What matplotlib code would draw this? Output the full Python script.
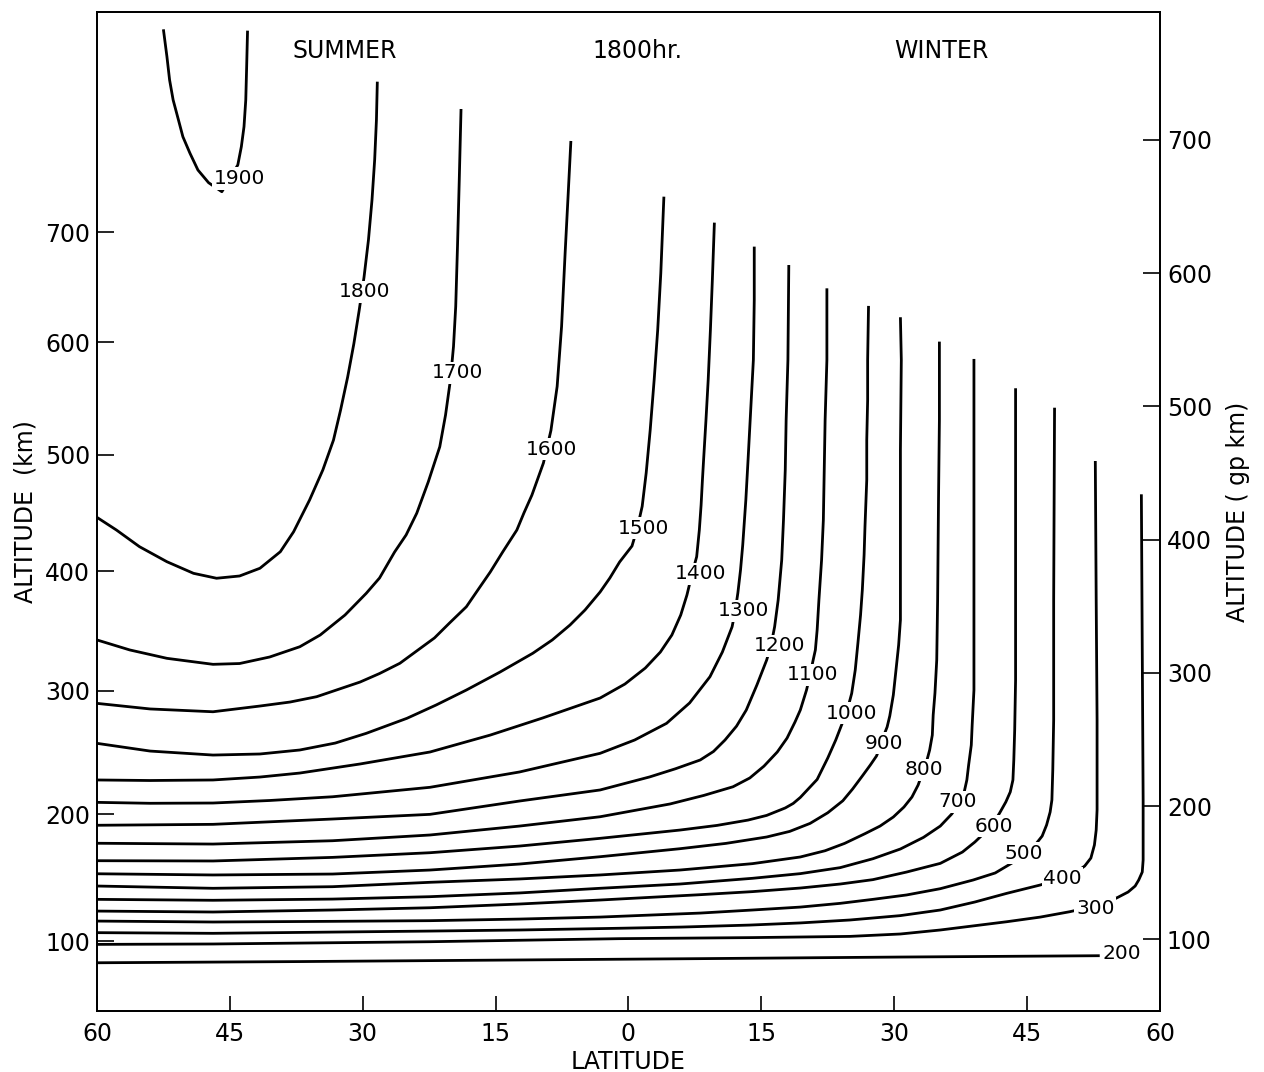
import numpy as np
import matplotlib
matplotlib.use("Agg")
import matplotlib.pyplot as plt

plt.rcParams["font.family"] = ["DejaVu Sans"]

# Isotherms (K) at 1800 hr, latitude negative = summer hemisphere,
# altitude in geopotential km
lat_200 = [-60.0, -37.1, -14.5, 8.1, 30.7, 53.2]
alt_200 = [82.4, 83.3, 84.4, 85.5, 86.7, 87.7]

lat_300 = [-60.0, -46.9, -22.4, -12.3, -1.0, 14.0, 25.0, 30.7, 35.2, 42.7, 46.5, 49.8, 52.7, 54.4, 55.3, 56.4,
           57.2, 57.6, 58.0, 58.1, 58.1, 58.1, 58.0, 57.9]
alt_300 = [96.2, 96.5, 98.2, 99.3, 100.5, 101.3, 102.2, 104.0, 107.0, 113.2, 116.7, 120.7, 125.0, 128.7, 131.7,
           135.5, 140.0, 144.5, 150.5, 159.5, 174.5, 204.6, 317.2, 434.0]

lat_400 = [-60.0, -46.9, -22.4, -12.3, -1.0, 6.0, 13.7, 19.4, 25.0, 30.7, 35.2, 39.1, 42.7, 46.5, 49.0, 50.4,
           51.5, 52.2, 52.6, 52.8, 52.9, 52.9, 52.8, 52.7]
alt_400 = [105.0, 104.5, 106.2, 107.0, 108.3, 109.2, 110.7, 112.3, 114.5, 117.8, 122.0, 128.0, 134.5, 140.8,
           146.0, 149.8, 155.0, 161.0, 170.8, 182.0, 197.1, 264.7, 354.7, 459.0]

lat_500 = [-60.0, -46.9, -33.4, -22.4, -12.3, -3.2, 8.1, 14.0, 19.4, 23.9, 27.6, 31.4, 35.2, 38.9, 41.4, 43.3,
           44.8, 45.9, 46.7, 47.2, 47.6, 47.8, 47.9, 48.0, 48.0, 48.1]
alt_500 = [113.7, 113.0, 113.5, 114.0, 115.2, 116.7, 119.7, 122.0, 124.2, 127.0, 130.0, 133.3, 138.0, 144.5,
           149.8, 157.3, 164.8, 170.8, 177.5, 185.8, 195.5, 204.6, 227.1, 264.7, 354.7, 499.0]

lat_600 = [-60.0, -46.9, -33.4, -22.4, -12.3, -3.2, 8.1, 14.0, 19.4, 23.9, 27.6, 31.4, 35.2, 37.7, 39.1, 40.3,
           41.2, 41.9, 42.6, 43.1, 43.4, 43.5, 43.6, 43.7, 43.7, 43.7]
alt_600 = [121.2, 120.5, 122.0, 123.7, 126.5, 129.5, 133.5, 135.8, 138.5, 141.5, 144.8, 150.5, 157.0, 165.5,
           173.0, 180.6, 187.3, 194.8, 203.1, 210.6, 219.6, 234.6, 257.1, 294.6, 392.2, 513.6]

lat_700 = [-60.0, -46.9, -33.4, -22.4, -12.3, -3.2, 5.8, 14.0, 19.4, 23.9, 27.6, 30.7, 33.3, 35.2, 36.5, 37.3,
           37.9, 38.2, 38.4, 38.7, 38.8, 39.0, 39.0, 39.0, 39.0]
alt_700 = [130.0, 129.3, 130.2, 132.0, 134.8, 138.3, 141.5, 145.8, 149.3, 153.8, 160.5, 167.8, 176.5, 185.0,
           194.1, 202.3, 210.6, 219.6, 230.8, 245.8, 260.8, 287.1, 324.7, 384.7, 535.6]

lat_800 = [-60.0, -46.9, -33.4, -22.4, -12.3, -3.2, 5.8, 14.0, 19.4, 22.2, 24.4, 26.7, 28.4, 29.9, 31.1, 32.0,
           32.7, 33.3, 33.7, 34.0, 34.3, 34.4, 34.6, 34.8, 34.9, 35.0, 35.1, 35.1]
alt_800 = [140.0, 138.3, 139.5, 142.8, 145.3, 148.3, 152.0, 156.8, 161.8, 166.5, 172.0, 179.3, 185.0, 191.8,
           199.3, 206.8, 215.8, 227.1, 234.6, 242.1, 253.3, 268.4, 284.9, 309.6, 354.7, 429.7, 489.8, 548.6]

lat_900 = [-60.0, -46.9, -33.4, -22.4, -12.3, -3.2, 5.8, 11.0, 15.6, 18.2, 20.5, 22.5, 24.2, 25.3, 26.4, 27.3,
           28.0, 28.5, 28.8, 29.2, 29.5, 29.9, 30.2, 30.5, 30.7, 30.7, 30.7, 30.8, 30.7]
alt_900 = [149.2, 148.3, 149.0, 152.0, 156.5, 162.0, 168.0, 172.0, 176.8, 181.0, 187.0, 195.0, 204.0, 212.8,
           222.6, 230.8, 237.6, 245.8, 252.6, 259.4, 267.7, 283.4, 302.1, 320.9, 339.7, 384.7, 467.3, 534.8, 566.9]

lat_1000 = [-60.0, -46.9, -33.4, -22.4, -12.3, -3.2, 5.8, 10.0, 13.5, 15.6, 17.7, 18.6, 19.4, 21.3, 22.5, 23.4,
            24.1, 24.7, 25.2, 25.6, 25.9, 26.2, 26.4, 26.6, 26.7, 26.9, 26.9, 27.0, 27.0, 27.1]
alt_1000 = [159.0, 158.8, 161.5, 165.0, 170.0, 175.8, 182.0, 185.5, 189.5, 193.0, 198.6, 202.0, 206.5, 220.0,
            236.1, 249.6, 261.6, 272.1, 284.6, 302.1, 322.2, 343.4, 362.2, 388.5, 409.7, 444.8, 474.8, 504.8,
            534.8, 575.4]

lat_1100 = [-60.0, -46.9, -33.4, -22.4, -12.3, -3.2, 4.7, 8.5, 11.8, 13.7, 15.3, 16.8, 17.9, 18.8, 19.4, 20.1,
            20.5, 20.8, 21.1, 21.3, 21.5, 21.8, 22.0, 22.1, 22.2, 22.4, 22.4]
alt_1100 = [172.1, 171.5, 174.0, 178.3, 185.0, 192.0, 201.6, 208.0, 214.5, 221.1, 230.0, 240.6, 251.0, 263.1,
            272.1, 287.1, 298.4, 308.1, 317.2, 332.2, 354.7, 384.7, 414.7, 452.3, 489.8, 534.8, 588.6]

lat_1200 = [-60.0, -46.9, -33.4, -22.4, -12.3, -3.2, 2.4, 5.3, 8.1, 9.6, 10.9, 12.2, 13.3, 14.5, 15.6, 16.1,
            16.5, 16.9, 17.3, 17.5, 17.7, 17.8, 18.0, 18.1]
alt_1200 = [185.6, 186.3, 190.3, 193.8, 203.8, 212.1, 221.9, 228.0, 234.6, 241.0, 249.6, 260.0, 272.1, 290.9,
            309.6, 320.9, 334.6, 354.7, 384.7, 414.7, 452.3, 489.8, 534.8, 606.1]

lat_1300 = [-60.0, -54.0, -46.9, -40.5, -33.4, -22.4, -12.3, -3.2, 0.7, 4.3, 6.9, 9.2, 10.6, 11.7, 12.05, 12.35,
            12.65, 12.9, 13.25, 13.5, 13.8, 14.1, 14.2, 14.2]
alt_1300 = [202.8, 202.1, 202.3, 204.2, 207.0, 214.1, 225.6, 239.6, 249.6, 262.1, 277.4, 297.1, 315.6, 334.6,
            346.4, 360.0, 377.2, 396.0, 429.7, 459.8, 497.3, 534.8, 579.8, 619.9]

lat_1400 = [-60.0, -54.0, -46.9, -41.6, -37.1, -30.3, -22.4, -15.6, -9.7, -3.2, -0.4, 1.9, 3.6, 4.9, 5.9, 6.6,
            7.2, 7.7, 8.0, 8.2, 8.35, 8.48, 8.75, 9.0, 9.25, 9.47, 9.7]
alt_1400 = [219.6, 219.2, 219.6, 221.8, 224.8, 231.6, 240.6, 253.3, 266.1, 281.1, 291.6, 303.6, 315.6, 328.4,
            343.4, 358.4, 374.9, 387.2, 407.2, 426.0, 444.8, 459.7, 489.8, 519.8, 557.3, 594.9, 637.9]

lat_1500 = [-60.0, -54.0, -46.9, -41.6, -37.1, -33.1, -29.6, -25.0, -21.7, -18.3, -14.5, -10.8, -8.6, -6.6,
            -4.9, -3.2, -2.1, -1.0, 0.4, 1.0, 1.55, 2.0, 2.45, 2.9, 3.3, 3.65, 4.0]
alt_1500 = [247.1, 241.3, 238.3, 239.1, 242.1, 247.3, 254.6, 265.9, 275.9, 287.1, 300.6, 314.7, 324.7, 335.9,
            347.2, 360.7, 371.2, 383.2, 395.2, 408.7, 425.0, 450.0, 482.0, 519.8, 557.3, 600.0, 657.4]

lat_1600 = [-60.0, -54.0, -46.9, -41.6, -38.2, -35.2, -30.3, -28.1, -25.8, -21.9, -20.2, -18.3, -17.0, -15.6,
            -14.2, -12.6, -11.8, -10.9, -9.6, -8.75, -8.05, -7.55, -7.15, -6.8, -6.5]
alt_1600 = [277.1, 272.9, 270.8, 275.1, 278.1, 282.1, 293.1, 299.5, 307.2, 326.2, 337.4, 349.6, 362.2, 375.7,
            390.7, 407.2, 420.0, 433.4, 457.5, 482.0, 515.0, 560.0, 615.0, 660.0, 699.2]

lat_1700 = [-60.0, -56.3, -52.1, -46.9, -43.9, -40.5, -37.1, -34.8, -32.0, -29.6, -28.1, -26.4, -25.1, -23.9,
            -22.6, -21.3, -20.65, -20.1, -19.75, -19.5, -19.3, -19.1, -18.9]
alt_1700 = [324.7, 317.2, 310.9, 306.4, 307.0, 311.9, 319.6, 328.4, 343.4, 359.7, 371.2, 390.7, 403.5, 419.8,
            443.3, 469.7, 493.5, 519.8, 545.0, 575.0, 620.0, 670.0, 723.2]

lat_1800 = [-60.0, -57.8, -55.2, -52.1, -49.1, -46.5, -43.9, -41.6, -39.3, -37.8, -36.0, -34.5, -33.3, -32.5,
            -31.7, -31.0, -30.4, -29.85, -29.35, -28.95, -28.65, -28.45, -28.35]
alt_1800 = [416.7, 407.2, 394.7, 383.4, 374.7, 371.0, 372.7, 378.5, 390.9, 405.9, 429.7, 452.3, 474.7, 497.2,
            522.0, 547.0, 572.0, 597.0, 625.0, 655.0, 685.0, 715.0, 743.7]

lat_1900 = [-52.5, -52.1, -51.8, -51.4, -50.8, -50.3, -49.5, -48.6, -47.4, -45.9, -44.1, -43.7, -43.4, -43.2,
            -43.1, -43.0]
alt_1900 = [783.0, 762.5, 745.0, 730.0, 715.0, 702.4, 690.0, 677.4, 667.9, 661.1, 681.2, 694.9, 709.9, 730.0,
            755.0, 782.0]

levels = [200, 300, 400, 500, 600, 700, 800, 900, 1000, 1100, 1200, 1300, 1400, 1500, 1600, 1700, 1800, 1900]
curves = [
    (lat_200, alt_200), (lat_300, alt_300), (lat_400, alt_400), (lat_500, alt_500),
    (lat_600, alt_600), (lat_700, alt_700), (lat_800, alt_800), (lat_900, alt_900),
    (lat_1000, alt_1000), (lat_1100, alt_1100), (lat_1200, alt_1200), (lat_1300, alt_1300),
    (lat_1400, alt_1400), (lat_1500, alt_1500), (lat_1600, alt_1600), (lat_1700, alt_1700),
    (lat_1800, alt_1800), (lat_1900, alt_1900),
]

lat_ticks = [-60, -45, -30, -15, 0, 15, 30, 45, 60]
km_ticks = [100, 200, 300, 400, 500, 600, 700]
gp_ticks = [100, 200, 300, 400, 500, 600, 700]

# where each isotherm value is written along its line
label_pos = {
    200: (55.7, 89.5), 300: (52.7, 123.3), 400: (49.0, 145.8), 500: (44.6, 164.6),
    600: (41.2, 185.0), 700: (37.2, 203.3), 800: (33.3, 227.1), 900: (28.8, 247.1),
    1000: (25.2, 269.6), 1100: (20.8, 298.4), 1200: (17.1, 320.2), 1300: (13.0, 346.6),
    1400: (8.1, 374.3), 1500: (1.7, 408.7), 1600: (-8.7, 467.8), 1700: (-19.3, 525.1),
    1800: (-29.8, 586.1), 1900: (-43.9, 671.0),
}

R_EARTH = 6356.77


def km_to_gp(z):
    z = np.asarray(z, dtype=float)
    return z * R_EARTH / (R_EARTH + z)


fig = plt.figure(figsize=(12.64, 10.72), dpi=100)
ax = fig.add_axes([0.0767, 0.0569, 0.8410, 0.9319])
ax.set_xlim(-60, 60)
ax.set_ylim(46.2, 796.0)

for lev, (la, al) in zip(levels, curves):
    ax.plot(la, al, color="black", lw=2.0, solid_capstyle="butt", solid_joinstyle="round", zorder=2)
    lx, ly = label_pos[lev]
    ax.text(lx, ly, str(lev), ha="center", va="center", fontsize=14.5, zorder=3,
            bbox=dict(boxstyle="square,pad=0.08", fc="white", ec="none"))

ax.set_xticks(lat_ticks)
ax.set_xticklabels([str(abs(v)) for v in lat_ticks])
ax.set_yticks(km_to_gp(km_ticks))
ax.set_yticklabels([str(v) for v in km_ticks])
ax.tick_params(axis="x", direction="in", length=11, width=1.2, labelsize=17, pad=8)
ax.tick_params(axis="y", direction="in", length=12, width=1.2, labelsize=17, pad=5)
ax.set_xlabel("LATITUDE", fontsize=17, labelpad=3)
ax.set_ylabel("ALTITUDE  (km)", fontsize=17, labelpad=5)

ax2 = ax.twinx()
ax2.set_ylim(ax.get_ylim())
ax2.set_yticks(gp_ticks)
ax2.set_yticklabels([str(v) for v in gp_ticks])
ax2.tick_params(axis="y", direction="in", length=12, width=1.2, labelsize=17, pad=5)
ax2.set_ylabel("ALTITUDE ( gp km)", fontsize=17, labelpad=10)

for a in (ax, ax2):
    for sp in a.spines.values():
        sp.set_linewidth(1.3)

ax.text(0.233, 0.961, "SUMMER", transform=ax.transAxes, ha="center", va="center", fontsize=17)
ax.text(0.508, 0.961, "1800hr.", transform=ax.transAxes, ha="center", va="center", fontsize=17)
ax.text(0.794, 0.961, "WINTER", transform=ax.transAxes, ha="center", va="center", fontsize=17)

fig.savefig("out.png", dpi=100)
